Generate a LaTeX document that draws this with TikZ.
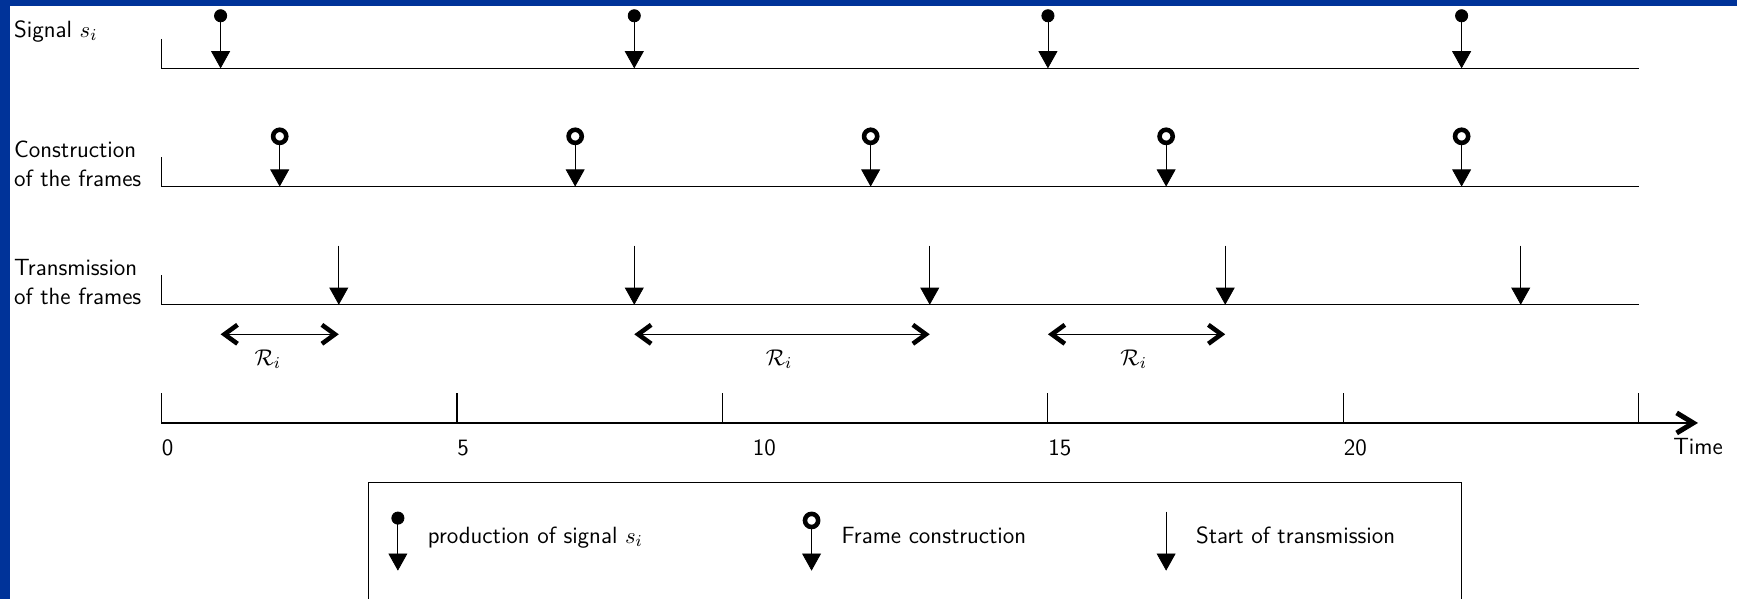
\documentclass[tikz,border=0pt]{standalone}
\usepackage{amsmath}
\usepackage{xcolor}
\usepackage{tikz}
\usetikzlibrary{arrows.meta,positioning}
\definecolor{slide}{RGB}{0,51,153}

\begin{document}
\begin{tikzpicture}[
  font=\fontsize{11.3}{14}\selectfont\sffamily,
  tline/.style={draw=black, line width=0.5pt},
  lbl/.style={anchor=base west, align=left, inner sep=0pt},
  sig/.style={{Circle[length=2.2mm]}-{Triangle[length=2.9mm,width=3.2mm]}, line width=0.4pt},
  frm/.style={{Circle[open,length=3mm,line width=2.2pt]}-{Triangle[length=2.9mm,width=3.2mm]}, line width=0.4pt},
  tx/.style={-{Triangle[length=2.9mm,width=3.2mm]}, line width=0.4pt},
  barb/.tip={Straight Barb[length=2.2mm,width=3.2mm,line width=2.2pt]},
  bigbarb/.tip={Straight Barb[length=2.8mm,width=3.4mm,line width=2.4pt]},
  resp/.style={barb-barb, line width=0.4pt},
  ticklbl/.style={anchor=north west, inner sep=0pt}]
\clip (-2.733,-2.978) rectangle (26.66,7.157);
% slide border
\fill[slide] (-2.733,-2.978) rectangle (-2.563,7.157);
\fill[slide] (-2.733,7.057) rectangle (26.66,7.157);
% the three rows
\foreach \y in {6,4,2}
  \draw[tline] (0,\y+0.5) -- (0,\y) -- (25,\y);
\node[lbl] (sigl) at (-2.5,6.53) {Signal $s_i$};
\node[lbl] (conl) at (-2.5,4) {Construction\\of the frames};
\node[lbl] (tral) at (-2.5,2) {Transmission\\of the frames};
\foreach \x in {1,8,15,22}
  \draw[sig] (\x,7) -- (\x,6);
\foreach \x in {2,7,12,17,22}
  \draw[frm] (\x,5) -- (\x,4);
\foreach \x in {3,8,13,18,23}
  \draw[tx] (\x,3) -- (\x,2);
% response times
\foreach \a/\b/\m in {1/3/1.8, 8/13/10.45, 15/18/16.45} {
  \draw[resp] (\a,1.5) -- (\b,1.5);
  \node at (\m,1.08) {$\mathcal{R}_i$};
}
% time axis
\draw[tline, line width=0.6pt, -bigbarb] (0,0.5) -- (0,0) -- (26,0);
\foreach \x in {5,9.5,15,20,25}
  \draw[tline] (\x,0) -- (\x,0.5);
\foreach \x in {0,5,10,15,20}
  \node[ticklbl] at (\x,-0.28) {\x};
\node[anchor=north, inner sep=0pt] (time) at (26,-0.26) {Time};
% legend
\draw[line width=0.4pt] (3.5,-3.5) rectangle (22,-1);
\draw[sig] (4,-1.5) -- (4,-2.5);
\node[lbl] (lsig) at (4.5,-2.04) {production of signal $s_i$};
\draw[frm] (11,-1.5) -- (11,-2.5);
\node[lbl] (lfrm) at (11.5,-2.04) {Frame construction};
\draw[tx] (17,-1.5) -- (17,-2.5);
\node[lbl] (ltx) at (17.5,-2.04) {Start of transmission};
\end{tikzpicture}
\end{document}
